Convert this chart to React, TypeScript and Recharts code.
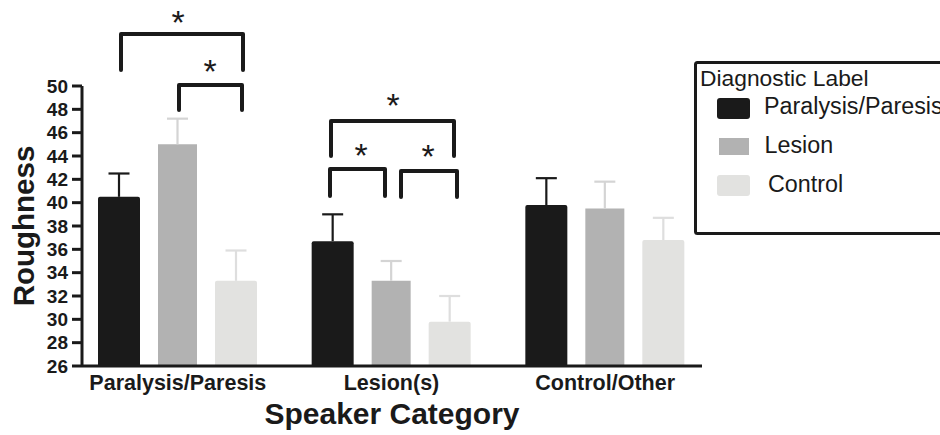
import React from 'react';
import { BarChart, Bar, XAxis, YAxis, Legend } from 'recharts';

// ---- data ----
const categories = ['Paralysis/Paresis', 'Lesion(s)', 'Control/Other'];
const seriesNames = ['Paralysis/Paresis', 'Lesion', 'Control'];
const paralysisMeans = [40.5, 36.7, 39.8];
const paralysisErr = [2.0, 2.3, 2.3];
const lesionMeans = [45.0, 33.3, 39.5];
const lesionErr = [2.2, 1.7, 2.3];
const controlMeans = [33.3, 29.8, 36.8];
const controlErr = [2.6, 2.2, 1.9];
const yTicks = [26, 28, 30, 32, 34, 36, 38, 40, 42, 44, 46, 48, 50];

// significance annotations (pixel overlay)
const brackets = [
  { x1: 121, x2: 243, yt: 34, yb: 70, sx: 178, sy: 15 },
  { x1: 179, x2: 242, yt: 85, yb: 110, sx: 210, sy: 64 },
  { x1: 331, x2: 454, yt: 121, yb: 156, sx: 393, sy: 98 },
  { x1: 330, x2: 385, yt: 169, yb: 196, sx: 361, sy: 148 },
  { x1: 401, x2: 457, yt: 171, yb: 197, sx: 428, sy: 149 },
];

const colors = ['#1a1a1a', '#b2b2b2', '#e2e2e0'];
const errColors = ['#1a1a1a', '#d4d4d4', '#dedede'];
const FONT = '"Liberation Sans", Arial, Helvetica, sans-serif';
const INK = '#1a1a1a';

const data = categories.map((c, i) => ({
  category: c,
  para: paralysisMeans[i],
  paraErr: paralysisErr[i],
  lesion: lesionMeans[i],
  lesionErr: lesionErr[i],
  control: controlMeans[i],
  controlErr: controlErr[i],
}));

const makeErrShape = (color: string) => (props: any) => {
  const { x, y, width, height } = props;
  const top = Math.min(y, y + height);
  const h = Math.abs(height);
  const cx = x + width / 2;
  return (
    <g>
      <line x1={cx} y1={top} x2={cx} y2={top + h} stroke={color} strokeWidth={2.2} />
      <line x1={cx - 10.5} y1={top} x2={cx + 10.5} y2={top} stroke={color} strokeWidth={2.2} />
    </g>
  );
};

const renderLegend = () => (
  <svg width={300} height={174} style={{ display: 'block' }}>
    <rect x={1.5} y={1.5} width={300} height={171} rx={2} fill="#fff" stroke={INK} strokeWidth={3} />
    <text x={6} y={25} fontSize={22.8} fontFamily={FONT} fill={INK}>Diagnostic Label</text>
    <rect x={23} y={37} width={33} height={21} rx={3} fill={colors[0]} />
    <text x={70} y={53} fontSize={23.3} fontFamily={FONT} fill={INK}>{seriesNames[0]}</text>
    <rect x={25} y={77} width={30} height={17} fill={colors[1]} />
    <text x={70.5} y={91.5} fontSize={23.3} fontFamily={FONT} fill={INK}>{seriesNames[1]}</text>
    <rect x={23} y={114} width={33} height={21} rx={3} fill={colors[2]} />
    <text x={74} y={130.5} fontSize={23.3} fontFamily={FONT} fill={INK}>{seriesNames[2]}</text>
  </svg>
);

const renderYLabel = (props: any) => {
  const vb = props.viewBox || { x: 0, y: 86, width: 82, height: 280 };
  const cy = vb.y + vb.height / 2;
  const x = 34;
  return (
    <text
      x={x}
      y={cy}
      transform={`rotate(-90, ${x}, ${cy})`}
      textAnchor="middle"
      fontSize={29.5}
      fontWeight="bold"
      fontFamily={FONT}
      fill={INK}
    >
      Roughness
    </text>
  );
};

const renderXLabel = (props: any) => {
  const vb = props.viewBox || { x: 82, y: 366, width: 620, height: 69 };
  return (
    <text
      x={vb.x + vb.width / 2}
      y={vb.y + 58}
      textAnchor="middle"
      fontSize={30}
      fontWeight="bold"
      fontFamily={FONT}
      fill={INK}
    >
      Speaker Category
    </text>
  );
};

export default function App() {
  return (
    <div style={{ position: 'absolute', left: 0, top: 0, width: 940, height: 435, overflow: 'hidden', background: '#fff', fontFamily: FONT }}>
      <BarChart
        width={940}
        height={435}
        data={data}
        margin={{ top: 86, right: 238, bottom: 0, left: 0 }}
        barGap={18}
      >
        <XAxis
          dataKey="category"
          height={69}
          padding={{ left: -11, right: -10 }}
          axisLine={{ stroke: INK, strokeWidth: 3 }}
          tickLine={false}
          tickSize={0}
          tickMargin={9}
          tick={{ fontSize: 21.5, fontWeight: 'bold', fill: INK, fontFamily: FONT }}
          label={{ content: renderXLabel }}
        />
        <YAxis
          width={82}
          domain={[26, 50]}
          ticks={yTicks}
          interval={0}
          allowDataOverflow
          axisLine={{ stroke: INK, strokeWidth: 3 }}
          tickLine={{ stroke: INK, strokeWidth: 3 }}
          tickSize={10}
          tickMargin={4}
          tick={{ fontSize: 19, fontWeight: 'bold', fill: INK, fontFamily: FONT }}
          label={{ content: renderYLabel }}
        />
        <Legend
          layout="vertical"
          align="center"
          verticalAlign="middle"
          width={300}
          height={174}
          wrapperStyle={{ left: 694, top: 61, width: 300, height: 174 }}
          content={renderLegend}
        />
        <Bar dataKey="para" stackId="p" barSize={42} fill={colors[0]} radius={[2, 2, 0, 0]} isAnimationActive={false} />
        <Bar dataKey="paraErr" stackId="p" barSize={42} shape={makeErrShape(errColors[0])} isAnimationActive={false} legendType="none" />
        <Bar dataKey="lesion" stackId="l" barSize={39} fill={colors[1]} isAnimationActive={false} />
        <Bar dataKey="lesionErr" stackId="l" barSize={39} shape={makeErrShape(errColors[1])} isAnimationActive={false} legendType="none" />
        <Bar dataKey="control" stackId="c" barSize={42} fill={colors[2]} radius={[2, 2, 0, 0]} isAnimationActive={false} />
        <Bar dataKey="controlErr" stackId="c" barSize={42} shape={makeErrShape(errColors[2])} isAnimationActive={false} legendType="none" />
      </BarChart>
      <svg width={940} height={435} style={{ position: 'absolute', left: 0, top: 0, pointerEvents: 'none' }}>
        {brackets.map((b, i) => (
          <g key={i}>
            <path
              d={`M ${b.x1} ${b.yb} L ${b.x1} ${b.yt} L ${b.x2} ${b.yt} L ${b.x2} ${b.yb}`}
              fill="none"
              stroke={INK}
              strokeWidth={4}
              strokeLinecap="round"
              strokeLinejoin="round"
            />
            <text x={b.sx} y={b.sy + 19} textAnchor="middle" fontSize={34} fontFamily={FONT} fill={INK}>*</text>
          </g>
        ))}
      </svg>
    </div>
  );
}
